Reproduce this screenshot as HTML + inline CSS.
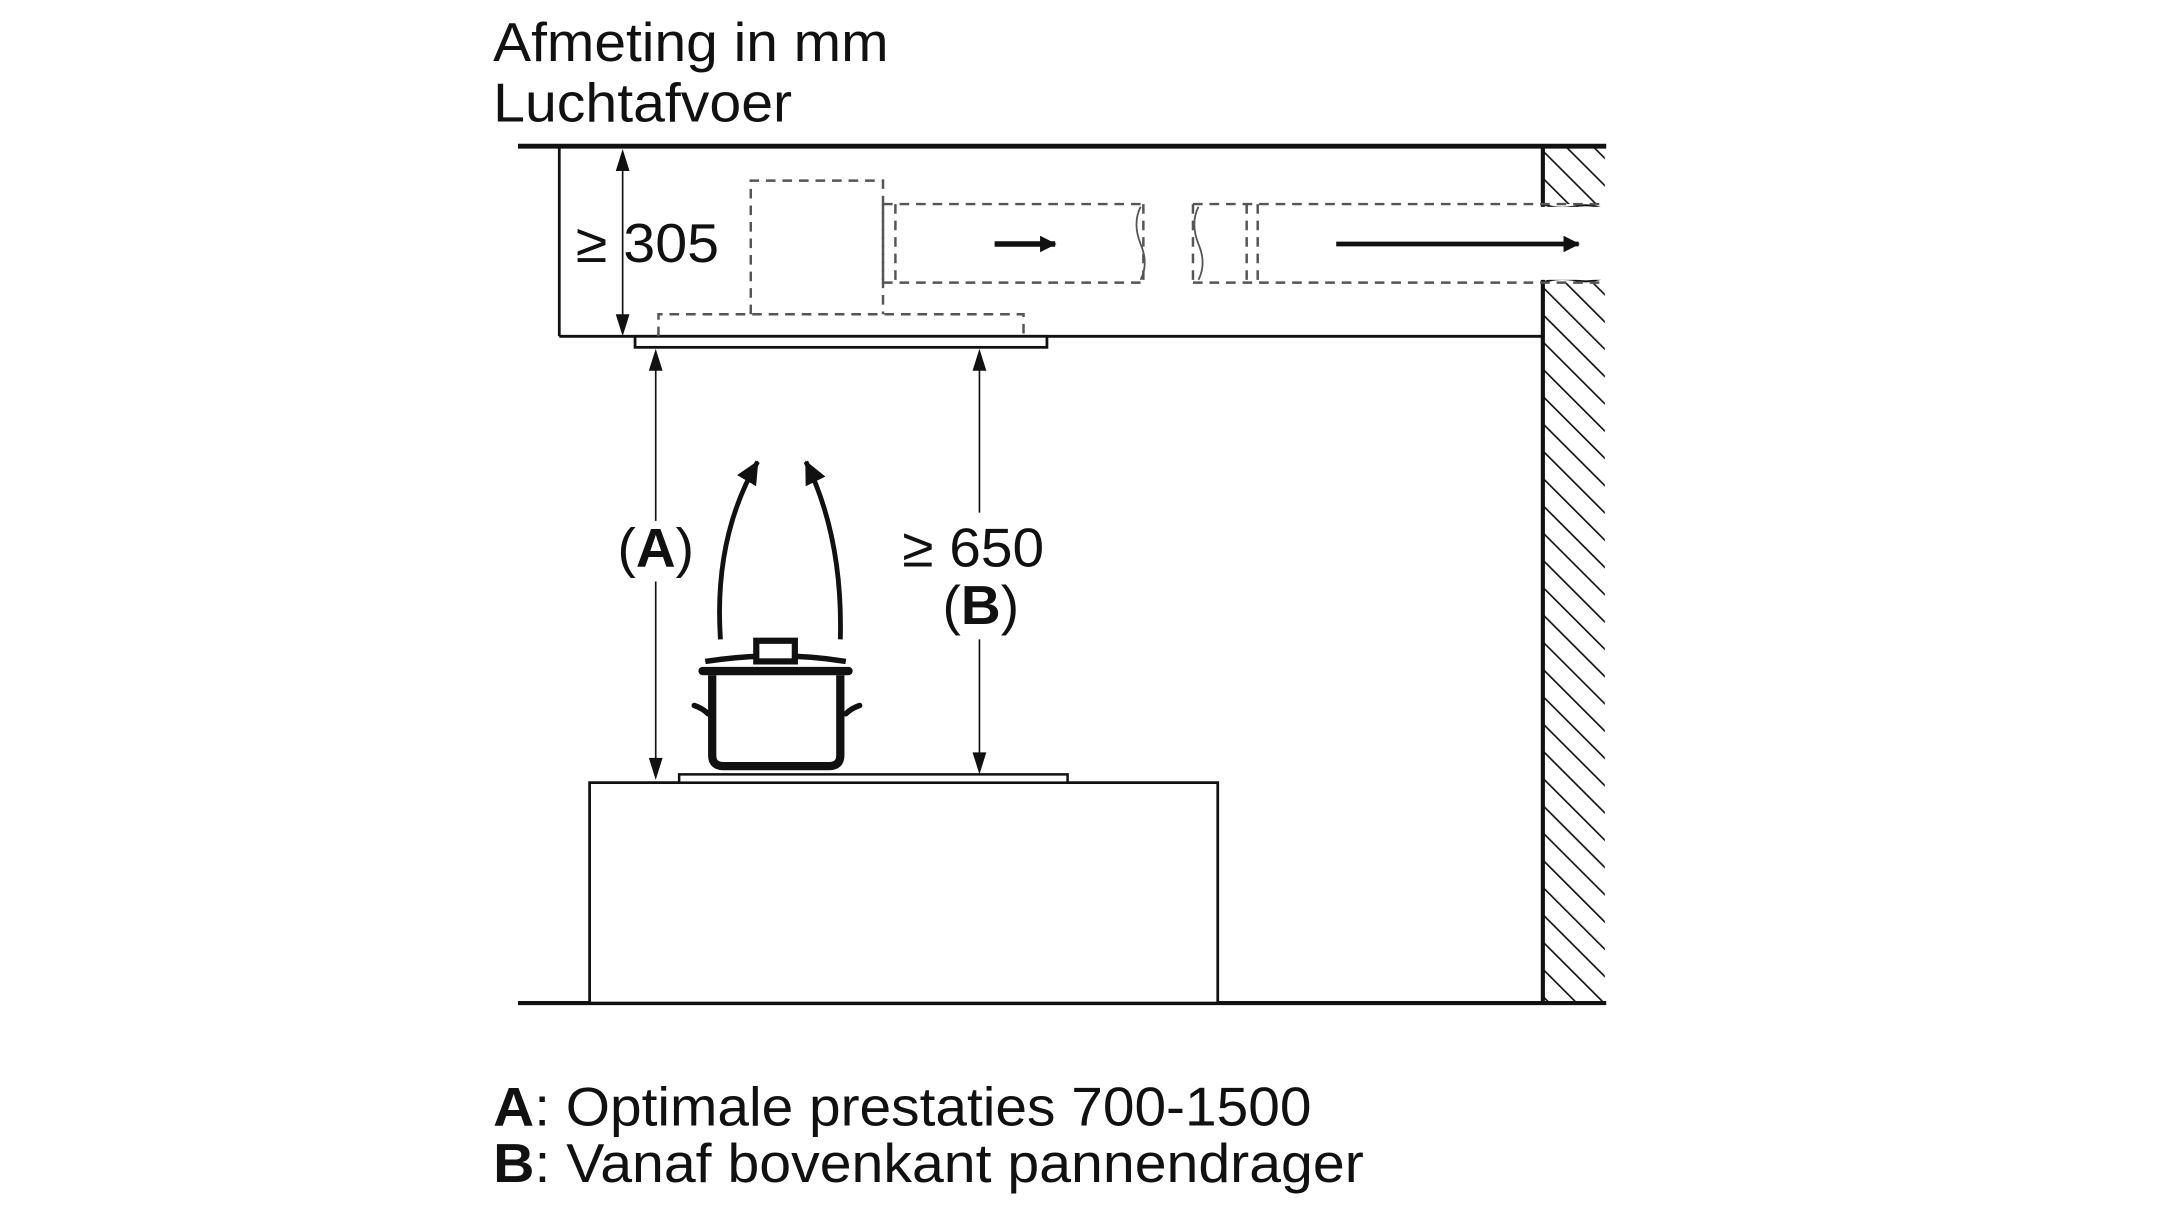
<!DOCTYPE html>
<html><head><meta charset="utf-8"><style>
html,body{margin:0;padding:0;background:#fff;}
svg{display:block;}
text{font-family:"Liberation Sans",sans-serif;fill:#111;}
</style></head><body>
<svg width="2160" height="1214" viewBox="0 0 1568 881" xmlns="http://www.w3.org/2000/svg">
<defs>
<pattern id="h" width="14" height="14" patternUnits="userSpaceOnUse" patternTransform="rotate(-45)">
<line x1="0" y1="0" x2="0" y2="14" stroke="#111" stroke-width="2.4"/>
</pattern>
<marker id="ar" markerWidth="12" markerHeight="12" refX="11" refY="6" orient="auto" markerUnits="userSpaceOnUse">
<path d="M0,0 L12,6 L0,12 Z" fill="#111"/>
</marker>
<marker id="ar2" markerWidth="18" markerHeight="16" refX="16" refY="8" orient="auto" markerUnits="userSpaceOnUse">
<path d="M0,0 L17,8 L0,16 Z" fill="#111"/>
</marker>
</defs>
<text x="358" y="44" font-size="40" textLength="287" lengthAdjust="spacingAndGlyphs">Afmeting in mm</text>
<text x="358" y="88" font-size="40" textLength="217" lengthAdjust="spacingAndGlyphs">Luchtafvoer</text>

<!-- wall hatching -->
<rect x="1120" y="106" width="45" height="42" fill="url(#h)"/>
<rect x="1120" y="205" width="45" height="523" fill="url(#h)"/>
<path d="M1120,148 q10,4 22,2 q12,-3 23,2" fill="#fff" stroke="#111" stroke-width="1.5"/>
<path d="M1120,205 q10,-4 22,-2 q12,3 23,-2" fill="#fff" stroke="#111" stroke-width="1.5"/>
<rect x="1120" y="150" width="46" height="53" fill="#fff"/>
<line x1="1120" y1="106" x2="1120" y2="150" stroke="#111" stroke-width="3"/>
<line x1="1120" y1="203" x2="1120" y2="728" stroke="#111" stroke-width="3"/>

<line x1="376" y1="106" x2="1166" y2="106" stroke="#111" stroke-width="3.5"/>
<line x1="376" y1="728" x2="1166" y2="728" stroke="#111" stroke-width="3"/>
<line x1="406" y1="106" x2="406" y2="244" stroke="#111" stroke-width="2"/>
<line x1="406" y1="244" x2="1120" y2="244" stroke="#111" stroke-width="2"/>
<rect x="461" y="244" width="299" height="8" fill="#fff" stroke="#111" stroke-width="2"/>

<!-- dashed hood -->
<g fill="none" stroke="#555" stroke-width="1.8" stroke-dasharray="7,5">
<path d="M478,244 V228 H743 V244"/>
<path d="M545,228 V131 H641 V228"/>
<path d="M641,148 H830 M641,205 H830 M641,148 V205 M650,148 V205 M830,148 V205"/>
<path d="M866,148 H1165 M866,205 H1165 M905,148 V205 M913,148 V205 M866,148 V205"/>
</g>
<path d="M828,150 q-6,12 0,27 q6,14 0,26" fill="none" stroke="#555" stroke-width="1.3"/>
<path d="M870,150 q-6,12 0,27 q6,14 0,26" fill="none" stroke="#555" stroke-width="1.3"/>
<line x1="722" y1="177" x2="766" y2="177" stroke="#111" stroke-width="4" marker-end="url(#ar)"/>
<line x1="970" y1="177" x2="1146" y2="177" stroke="#111" stroke-width="3.5" marker-end="url(#ar)"/>

<!-- 305 dim -->
<line x1="452" y1="120" x2="452" y2="232" stroke="#111" stroke-width="1.2"/>
<path d="M452,108 l-5,16 h10 Z M452,244 l-5,-16 h10 Z" fill="#111"/>
<text x="418" y="190" font-size="40" textLength="104" lengthAdjust="spacingAndGlyphs">≥ 305</text>

<!-- A dim -->
<line x1="476" y1="264" x2="476" y2="378" stroke="#111" stroke-width="1.2"/>
<line x1="476" y1="422" x2="476" y2="554" stroke="#111" stroke-width="1.2"/>
<path d="M476,253 l-5,16 h10 Z M476,566 l-5,-16 h10 Z" fill="#111"/>
<text x="476" y="411" font-size="40" text-anchor="middle">(<tspan font-weight="bold">A</tspan>)</text>

<!-- B dim -->
<line x1="711" y1="264" x2="711" y2="372" stroke="#111" stroke-width="1.2"/>
<line x1="711" y1="464" x2="711" y2="550" stroke="#111" stroke-width="1.2"/>
<path d="M711,253 l-5,16 h10 Z M711,562 l-5,-16 h10 Z" fill="#111"/>
<text x="655" y="411" font-size="40" textLength="103" lengthAdjust="spacingAndGlyphs">≥ 650</text>
<text x="712" y="453" font-size="40" text-anchor="middle">(<tspan font-weight="bold">B</tspan>)</text>

<!-- cabinet & hob -->
<rect x="428" y="568" width="456" height="160" fill="#fff" stroke="#111" stroke-width="2"/>
<rect x="493" y="562" width="282" height="6" fill="#fff" stroke="#111" stroke-width="1.8"/>

<!-- pot -->
<path d="M517,490 V548 q0,8 8,8 H602 q8,0 8,-8 V490" fill="#fff" stroke="#111" stroke-width="6"/>
<line x1="510" y1="487" x2="616" y2="487" stroke="#111" stroke-width="6" stroke-linecap="round"/>
<path d="M512,480 q52,-8 102,0" fill="none" stroke="#111" stroke-width="4"/>
<rect x="549" y="465" width="28" height="15" fill="#fff" stroke="#111" stroke-width="4.5"/>
<path d="M514,518 q-4,-4 -10,-6 M614,518 q4,-4 10,-6" fill="none" stroke="#111" stroke-width="4" stroke-linecap="round"/>

<!-- steam arrows -->
<path d="M523,464 Q518,390 550,335" fill="none" stroke="#111" stroke-width="3.5" marker-end="url(#ar2)"/>
<path d="M610,464 Q612,390 585,335" fill="none" stroke="#111" stroke-width="3.5" marker-end="url(#ar2)"/>

<text x="358" y="817" font-size="40" textLength="594" lengthAdjust="spacingAndGlyphs"><tspan font-weight="bold">A</tspan>: Optimale prestaties 700-1500</text>
<text x="358" y="858" font-size="40" textLength="632" lengthAdjust="spacingAndGlyphs"><tspan font-weight="bold">B</tspan>: Vanaf bovenkant pannendrager</text>
</svg>
</body></html>
